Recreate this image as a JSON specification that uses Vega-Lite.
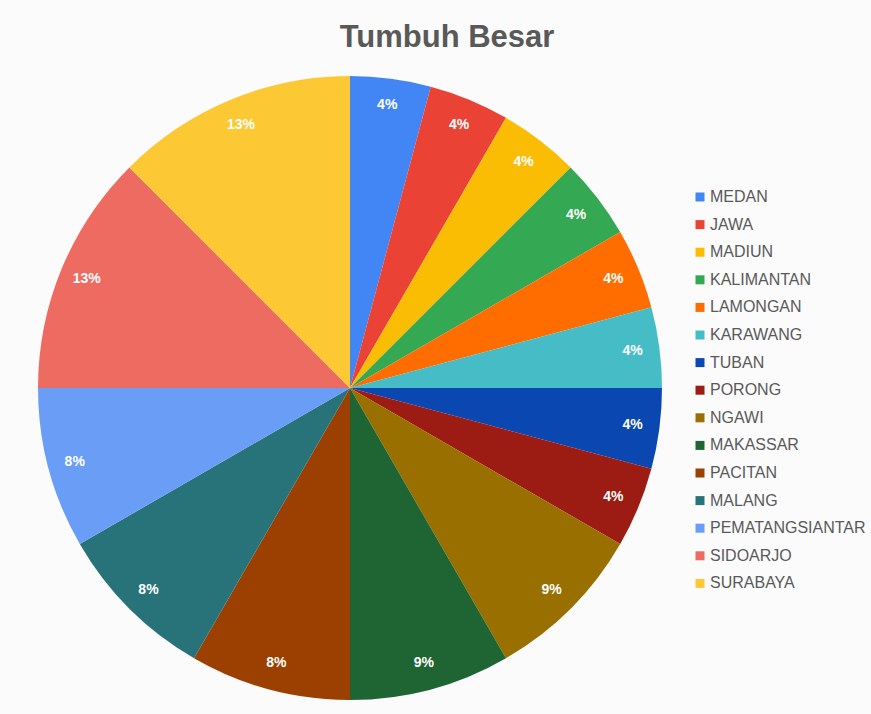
{
  "$schema": "https://vega.github.io/schema/vega-lite/v6.json",
  "autosize": "none",
  "width": 700,
  "height": 624,
  "padding": {"top": 76, "left": 0, "right": 171, "bottom": 14},
  "background": "#fbfbfb",
  "config": {"view": {"stroke": null}, "font": "Liberation Sans"},
  "title": {
    "text": "Tumbuh Besar",
    "fontSize": 31,
    "fontWeight": "bold",
    "color": "#595959",
    "font": "Liberation Sans",
    "anchor": "middle",
    "dx": 97,
    "offset": 22
  },
  "data": {
    "values": [
      {"idx": 1, "kota": "MEDAN", "nilai": 1, "label": "4%"},
      {"idx": 2, "kota": "JAWA", "nilai": 1, "label": "4%"},
      {"idx": 3, "kota": "MADIUN", "nilai": 1, "label": "4%"},
      {"idx": 4, "kota": "KALIMANTAN", "nilai": 1, "label": "4%"},
      {"idx": 5, "kota": "LAMONGAN", "nilai": 1, "label": "4%"},
      {"idx": 6, "kota": "KARAWANG", "nilai": 1, "label": "4%"},
      {"idx": 7, "kota": "TUBAN", "nilai": 1, "label": "4%"},
      {"idx": 8, "kota": "PORONG", "nilai": 1, "label": "4%"},
      {"idx": 9, "kota": "NGAWI", "nilai": 2, "label": "9%"},
      {"idx": 10, "kota": "MAKASSAR", "nilai": 2, "label": "9%"},
      {"idx": 11, "kota": "PACITAN", "nilai": 2, "label": "8%"},
      {"idx": 12, "kota": "MALANG", "nilai": 2, "label": "8%"},
      {"idx": 13, "kota": "PEMATANGSIANTAR", "nilai": 2, "label": "8%"},
      {"idx": 14, "kota": "SIDOARJO", "nilai": 3, "label": "13%"},
      {"idx": 15, "kota": "SURABAYA", "nilai": 3, "label": "13%"}
    ]
  },
  "encoding": {
    "theta": {"field": "nilai", "type": "quantitative", "stack": true},
    "order": {"field": "idx", "type": "quantitative"}
  },
  "layer": [
    {
      "mark": {"type": "arc", "outerRadius": 312},
      "encoding": {
        "color": {
          "field": "kota",
          "type": "nominal",
          "scale": {
            "domain": ["MEDAN", "JAWA", "MADIUN", "KALIMANTAN", "LAMONGAN", "KARAWANG", "TUBAN", "PORONG", "NGAWI", "MAKASSAR", "PACITAN", "MALANG", "PEMATANGSIANTAR", "SIDOARJO", "SURABAYA"],
            "range": ["#4285f4", "#ea4335", "#fbbc04", "#34a853", "#ff6d01", "#46bdc6", "#0b47b0", "#9c1b12", "#997000", "#1f6433", "#9b4000", "#287379", "#6a9df5", "#ee6b61", "#fcc833"]
          },
          "legend": {
            "title": null,
            "orient": "none",
            "legendX": 692,
            "legendY": 113,
            "symbolType": "square",
            "symbolSize": 81,
            "symbolStrokeWidth": 0,
            "labelFontSize": 16,
            "labelColor": "#595959",
            "labelFont": "Liberation Sans",
            "labelOffset": 2,
            "rowPadding": 11.6,
            "padding": 0
          }
        }
      }
    },
    {
      "mark": {"type": "text", "radius": 285, "fontSize": 14, "fontWeight": "bold", "color": "white", "font": "Liberation Sans"},
      "encoding": {"text": {"field": "label"}}
    }
  ]
}
